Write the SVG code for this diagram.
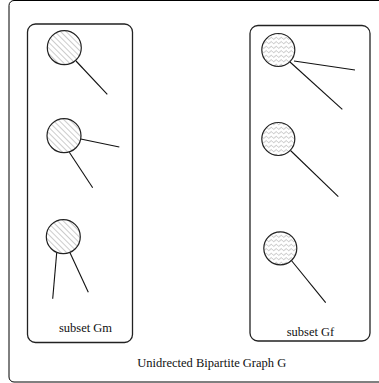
<svg xmlns="http://www.w3.org/2000/svg" width="379" height="383" viewBox="0 0 379 383">
<defs>
<pattern id="hatch" patternUnits="userSpaceOnUse" width="4" height="4" patternTransform="rotate(-45)">
<line x1="0" y1="0" x2="0" y2="4" stroke="#999" stroke-width="1"/>
</pattern>
<pattern id="wave" patternUnits="userSpaceOnUse" width="5" height="4.5">
<path d="M0,2.25 L1.25,1.25 L2.5,2.25 L3.75,3.25 L5,2.25" fill="none" stroke="#999" stroke-width="0.7"/>
</pattern>
<style>
.frame{fill:none;stroke:#000;stroke-width:1}
.box{fill:none;stroke:#222;stroke-width:1.3}
.m{fill:url(#hatch);stroke:#222;stroke-width:1.2}
.f{fill:url(#wave);stroke:#222;stroke-width:1.2}
.e{stroke:#111;stroke-width:1.1;fill:none}
text{font-family:"Liberation Serif","Times New Roman",serif;font-size:12.5px;fill:#111}
</style>
</defs>
<rect x="0" y="0" width="379" height="383" fill="#fff"/>
<rect class="frame" x="9" y="0.5" width="380" height="381.5" rx="5"/>
<g id="subsetGm">
<rect class="box" x="27.5" y="24" width="105" height="318.5" rx="8"/>
<text x="85.5" y="332" text-anchor="middle">subset Gm</text>
</g>
<g id="subsetGf">
<rect class="box" x="250" y="25.5" width="120" height="315.5" rx="8"/>
<text x="310.5" y="336" text-anchor="middle">subset Gf</text>
</g>
<g id="connectors">
<line class="e" x1="76" y1="61" x2="107.3" y2="94.3"/>
<line class="e" x1="80.7" y1="139" x2="119.3" y2="147"/>
<line class="e" x1="69.3" y1="152.3" x2="92.7" y2="187.7"/>
<line class="e" x1="56.7" y1="252.7" x2="52.7" y2="298.7"/>
<line class="e" x1="70" y1="252.7" x2="88.3" y2="292.3"/>
<line class="e" x1="294" y1="61" x2="355" y2="70"/>
<line class="e" x1="290" y1="62" x2="342.3" y2="109.3"/>
<line class="e" x1="290.5" y1="150.5" x2="338.3" y2="196.7"/>
<line class="e" x1="291" y1="260" x2="325.7" y2="302.7"/>
</g>
<g id="m1"><circle class="m" cx="64.3" cy="47.7" r="17"/></g>
<g id="m2"><circle class="m" cx="64" cy="135.7" r="17"/></g>
<g id="m3"><circle class="m" cx="63.3" cy="236.7" r="17"/></g>
<g id="f1"><circle class="f" cx="278.3" cy="50" r="16.5"/></g>
<g id="f2"><circle class="f" cx="278.3" cy="139" r="16.5"/></g>
<g id="f3"><circle class="f" cx="280.3" cy="248.3" r="16.5"/></g>
<g id="title"><text x="137.3" y="367">Unidrected Bipartite Graph G</text></g>
</svg>
